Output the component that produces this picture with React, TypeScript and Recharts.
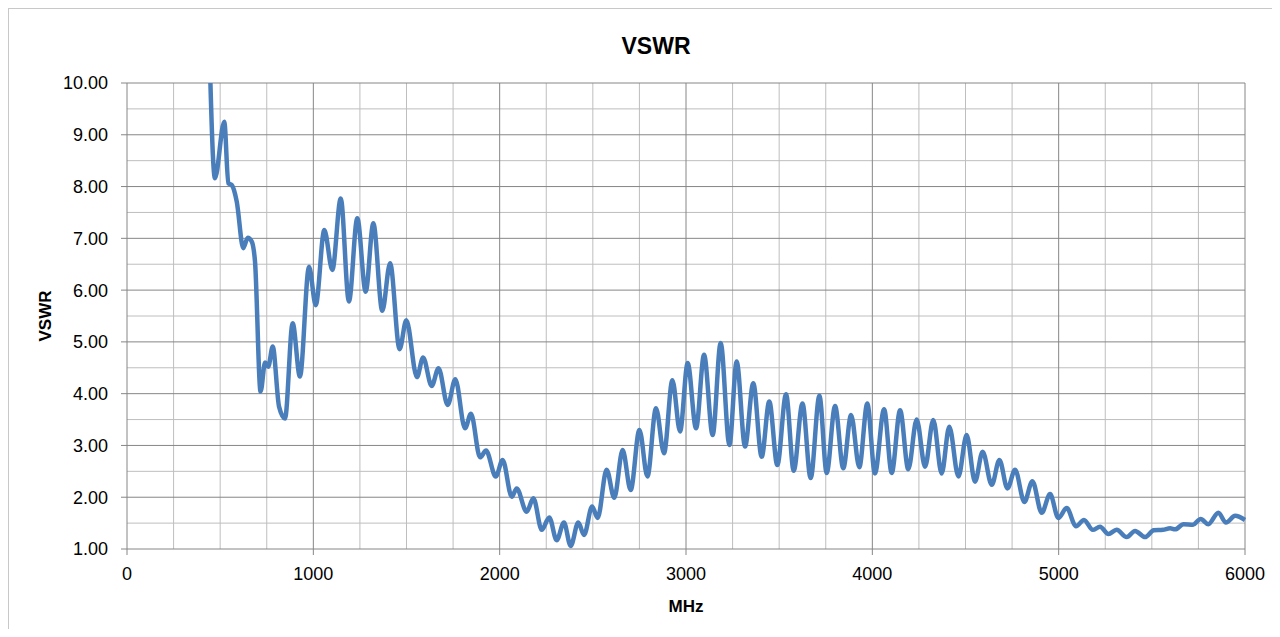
import { Line, LineChart, ReferenceLine, XAxis, YAxis } from "recharts";

// frequency (MHz) and VSWR, read from peaks/troughs of the original trace
const freqs = [
  440, 472, 522, 544, 562, 589, 624, 648, 669, 687, 717, 741, 758, 782, 816, 848,
  889, 928, 977, 1013, 1059, 1102, 1147, 1191, 1236, 1281, 1322, 1370, 1412, 1463,
  1499, 1556, 1589, 1635, 1672, 1721, 1762, 1814, 1846, 1895, 1927, 1979, 2016,
  2065, 2091, 2145, 2181, 2226, 2266, 2306, 2345, 2381, 2422, 2453, 2496, 2526,
  2574, 2615, 2660, 2703, 2750, 2793, 2839, 2882, 2927, 2968, 3009, 3054, 3097,
  3143, 3186, 3233, 3272, 3317, 3361, 3406, 3447, 3490, 3537, 3578, 3625, 3669,
  3716, 3755, 3800, 3844, 3886, 3930, 3973, 4014, 4063, 4104, 4149, 4193, 4238,
  4283, 4327, 4372, 4413, 4462, 4506, 4551, 4592, 4641, 4682, 4725, 4766, 4816,
  4859, 4909, 4954, 4998, 5043, 5093, 5136, 5183, 5222, 5267, 5311, 5365, 5410,
  5464, 5510, 5560, 5598, 5625, 5670, 5721, 5762, 5803, 5857, 5898, 5947, 6000,
];

const vswr = [
  11.0, 8.16, 9.25, 8.06, 8.03, 7.71, 6.81, 7.01, 6.94, 6.55, 4.04, 4.6, 4.52, 4.91,
  3.75, 3.52, 5.36, 4.33, 6.45, 5.71, 7.16, 6.39, 7.77, 5.78, 7.39, 5.97, 7.29, 5.6,
  6.52, 4.86, 5.42, 4.32, 4.7, 4.15, 4.49, 3.78, 4.28, 3.33, 3.61, 2.77, 2.9, 2.4,
  2.72, 2.01, 2.17, 1.72, 1.98, 1.37, 1.61, 1.17, 1.51, 1.06, 1.51, 1.27, 1.82, 1.6,
  2.53, 1.99, 2.91, 2.14, 3.3, 2.4, 3.72, 2.85, 4.26, 3.27, 4.59, 3.33, 4.75, 3.2,
  4.98, 3.01, 4.62, 2.98, 4.2, 2.78, 3.85, 2.62, 3.99, 2.51, 3.81, 2.37, 3.96, 2.47,
  3.76, 2.56, 3.59, 2.58, 3.81, 2.46, 3.7, 2.47, 3.68, 2.54, 3.5, 2.59, 3.49, 2.46,
  3.36, 2.4, 3.2, 2.3, 2.88, 2.24, 2.72, 2.17, 2.53, 1.91, 2.31, 1.7, 2.06, 1.6,
  1.79, 1.44, 1.56, 1.37, 1.43, 1.29, 1.37, 1.23, 1.35, 1.23, 1.36, 1.37, 1.4, 1.38,
  1.48, 1.47, 1.58, 1.48, 1.7, 1.51, 1.64, 1.56,
];

const xTicks = [0, 1000, 2000, 3000, 4000, 5000, 6000];
const yTicks = [1, 2, 3, 4, 5, 6, 7, 8, 9, 10];
const xMinor = [
  250, 500, 750, 1250, 1500, 1750, 2250, 2500, 2750, 3250, 3500, 3750, 4250, 4500,
  4750, 5250, 5500, 5750,
];
const yMinor = [1.5, 2.5, 3.5, 4.5, 5.5, 6.5, 7.5, 8.5, 9.5];

const data = freqs.map((f, i) => ({ f, v: vswr[i] }));

const FONT = "'Liberation Sans', Arial, sans-serif";
const MAJOR = "#868686";
const MINOR = "#bebebe";

export default function App() {
  return (
    <div
      style={{
        position: "relative",
        width: 1266,
        height: 620,
        borderTop: "1px solid #c8c8c8",
        borderLeft: "1px solid #c8c8c8",
        borderRight: "1px solid #c8c8c8",
        fontFamily: FONT,
        background: "#fff",
      }}
    >
      <div
        style={{
          position: "absolute",
          left: 547,
          top: 26,
          width: 200,
          textAlign: "center",
          fontSize: 23,
          lineHeight: "23px",
          fontWeight: "bold",
          color: "#000",
        }}
      >
        VSWR
      </div>
      <LineChart
        width={1266}
        height={620}
        data={data}
        margin={{ top: 74, right: 30, bottom: 14, left: 0 }}
      >
        {xMinor.map((x) => (
          <ReferenceLine key={"xm" + x} x={x} stroke={MINOR} strokeWidth={1} />
        ))}
        {yMinor.map((y) => (
          <ReferenceLine key={"ym" + y} y={y} stroke={MINOR} strokeWidth={1} />
        ))}
        {xTicks.slice(1).map((x) => (
          <ReferenceLine key={"xM" + x} x={x} stroke={MAJOR} strokeWidth={1} />
        ))}
        {yTicks.slice(1).map((y) => (
          <ReferenceLine key={"yM" + y} y={y} stroke={MAJOR} strokeWidth={1} />
        ))}
        <XAxis
          type="number"
          dataKey="f"
          domain={[0, 6000]}
          ticks={xTicks}
          interval={0}
          height={66}
          stroke={MAJOR}
          tickSize={6}
          tickMargin={12}
          tick={{ fill: "#000", fontSize: 18, fontFamily: FONT }}
          label={{
            value: "MHz",
            position: "insideBottom",
            offset: 3,
            fill: "#000",
            fontSize: 17,
            fontWeight: "bold",
            fontFamily: FONT,
          }}
        />
        <YAxis
          type="number"
          domain={[1, 10]}
          ticks={yTicks}
          interval={0}
          allowDataOverflow
          width={118}
          stroke={MAJOR}
          tickSize={6}
          tickMargin={13}
          tickFormatter={(v: number) => v.toFixed(2)}
          tick={{ fill: "#000", fontSize: 18, fontFamily: FONT }}
          label={{
            content: () => (
              <text
                x={36}
                y={307}
                transform="rotate(-90 36 307)"
                textAnchor="middle"
                dominantBaseline="central"
                fontSize={17}
                fontWeight="bold"
                fontFamily={FONT}
                fill="#000"
              >
                VSWR
              </text>
            ),
          }}
        />
        <Line
          type="monotoneX"
          dataKey="v"
          stroke="#4a7ebb"
          strokeWidth={4.5}
          dot={false}
          activeDot={false}
          isAnimationActive={false}
        />
      </LineChart>
    </div>
  );
}
